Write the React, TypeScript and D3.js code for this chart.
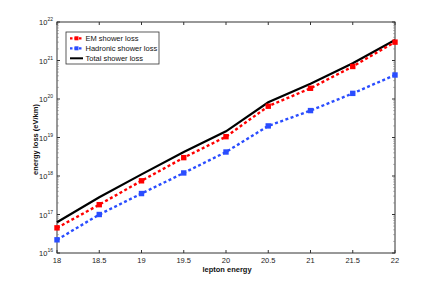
import * as d3 from "d3";

const energies = [18, 18.5, 19, 19.5, 20, 20.5, 21, 21.5, 22];
const emLoss = [4.5e16, 1.8e17, 7.5e17, 3e18, 1.05e19, 6.5e19, 1.9e20, 7e20, 3e21];
const hadLoss = [2.2e16, 1e17, 3.5e17, 1.2e18, 4.2e18, 2e19, 5e19, 1.4e20, 4.2e20];
const totalLoss = [6.3e16, 2.8e17, 1.1e18, 4.2e18, 1.45e19, 8.2e19, 2.5e20, 8.5e20, 3.4e21];
const xTicks = [18, 18.5, 19, 19.5, 20, 20.5, 21, 21.5, 22];
const yDecades = [16, 17, 18, 19, 20, 21, 22];

const W = 436;
const H = 285;
const ML = 57;
const MR = 41;
const MT = 22;
const MB = 32;

export default function App() {
  const x = d3.scaleLinear().domain([18, 22]).range([ML, W - MR]);
  const y = d3.scaleLog().domain([1e16, 1e22]).range([H - MB, MT]);

  const minor: number[] = [];
  for (const e of yDecades.slice(0, -1)) {
    for (let k = 2; k <= 9; k++) minor.push(k * Math.pow(10, e));
  }

  const line = d3
    .line<[number, number]>()
    .x((d) => x(d[0]))
    .y((d) => y(d[1]));
  const pts = (vals: number[]) => energies.map((e, i) => [e, vals[i]] as [number, number]);

  const font = "Helvetica, Arial, 'Liberation Sans', sans-serif";
  const x0 = ML, x1 = W - MR, y0 = MT, y1 = H - MB;

  return (
    <svg width={W} height={H} style={{ position: "absolute", left: 0, top: 0, fontFamily: font }}>
      <rect width={W} height={H} fill="#fff" />
      <rect x={x0} y={y0} width={x1 - x0} height={y1 - y0} fill="none" stroke="#333" strokeWidth={1} />

      {xTicks.map((t) => (
        <g key={t}>
          <line x1={x(t)} x2={x(t)} y1={y1} y2={y1 - 3} stroke="#333" />
          <line x1={x(t)} x2={x(t)} y1={y0} y2={y0 + 3} stroke="#333" />
          <text x={x(t)} y={y1 + 10} fontSize={7.5} textAnchor="middle" fill="#222">
            {t}
          </text>
        </g>
      ))}

      {yDecades.map((e) => (
        <g key={e}>
          <line x1={x0} x2={x0 + 3} y1={y(Math.pow(10, e))} y2={y(Math.pow(10, e))} stroke="#333" />
          <line x1={x1} x2={x1 - 3} y1={y(Math.pow(10, e))} y2={y(Math.pow(10, e))} stroke="#333" />
          <text x={x0 - 4} y={y(Math.pow(10, e)) + 3} fontSize={7.5} textAnchor="end" fill="#222">
            10
            <tspan fontSize={5} dy={-4}>
              {e}
            </tspan>
          </text>
        </g>
      ))}
      {minor.map((v, i) => (
        <g key={i} stroke="#777" strokeWidth={0.6}>
          <line x1={x0} x2={x0 + 1.8} y1={y(v)} y2={y(v)} />
          <line x1={x1} x2={x1 - 1.8} y1={y(v)} y2={y(v)} />
        </g>
      ))}

      <path d={line(pts(totalLoss)) ?? ""} fill="none" stroke="#000" strokeWidth={2.2} />
      <path d={line(pts(emLoss)) ?? ""} fill="none" stroke="#f00" strokeWidth={2.4} strokeDasharray="3,2.5" />
      <path d={line(pts(hadLoss)) ?? ""} fill="none" stroke="#2a4dff" strokeWidth={2.4} strokeDasharray="3,2.5" />
      {pts(emLoss).map((d, i) => (
        <rect key={`e${i}`} x={x(d[0]) - 2.7} y={y(d[1]) - 2.7} width={5.4} height={5.4} fill="#f00" />
      ))}
      {pts(hadLoss).map((d, i) => (
        <rect key={`h${i}`} x={x(d[0]) - 2.7} y={y(d[1]) - 2.7} width={5.4} height={5.4} fill="#2a4dff" />
      ))}

      <g transform="translate(66,32)">
        <rect width={93} height={32} fill="#fff" stroke="#333" strokeWidth={0.8} />
        <line x1={4} x2={17} y1={6.3} y2={6.3} stroke="#f00" strokeWidth={2.2} strokeDasharray="2.5,2" />
        <rect x={8.5} y={4.3} width={4} height={4} fill="#f00" />
        <text x={19.5} y={9} fontSize={7.5} fill="#111">EM shower loss</text>
        <line x1={4} x2={17} y1={16.3} y2={16.3} stroke="#2a4dff" strokeWidth={2.2} strokeDasharray="2.5,2" />
        <rect x={8.5} y={14.3} width={4} height={4} fill="#2a4dff" />
        <text x={19.5} y={19} fontSize={7.5} fill="#111">Hadronic shower loss</text>
        <line x1={4} x2={17} y1={26.3} y2={26.3} stroke="#000" strokeWidth={2} />
        <text x={19.5} y={29} fontSize={7.5} fill="#111">Total shower loss</text>
      </g>

      <text x={(x0 + x1) / 2 + 1} y={y1 + 19} fontSize={7.5} fontWeight="bold" textAnchor="middle" fill="#111">
        lepton energy
      </text>
      <text
        transform={`translate(38,${(y0 + y1) / 2 + 2}) rotate(-90)`}
        fontSize={7.5}
        fontWeight="bold"
        textAnchor="middle"
        fill="#111"
      >
        energy loss (eV/km)
      </text>
    </svg>
  );
}
